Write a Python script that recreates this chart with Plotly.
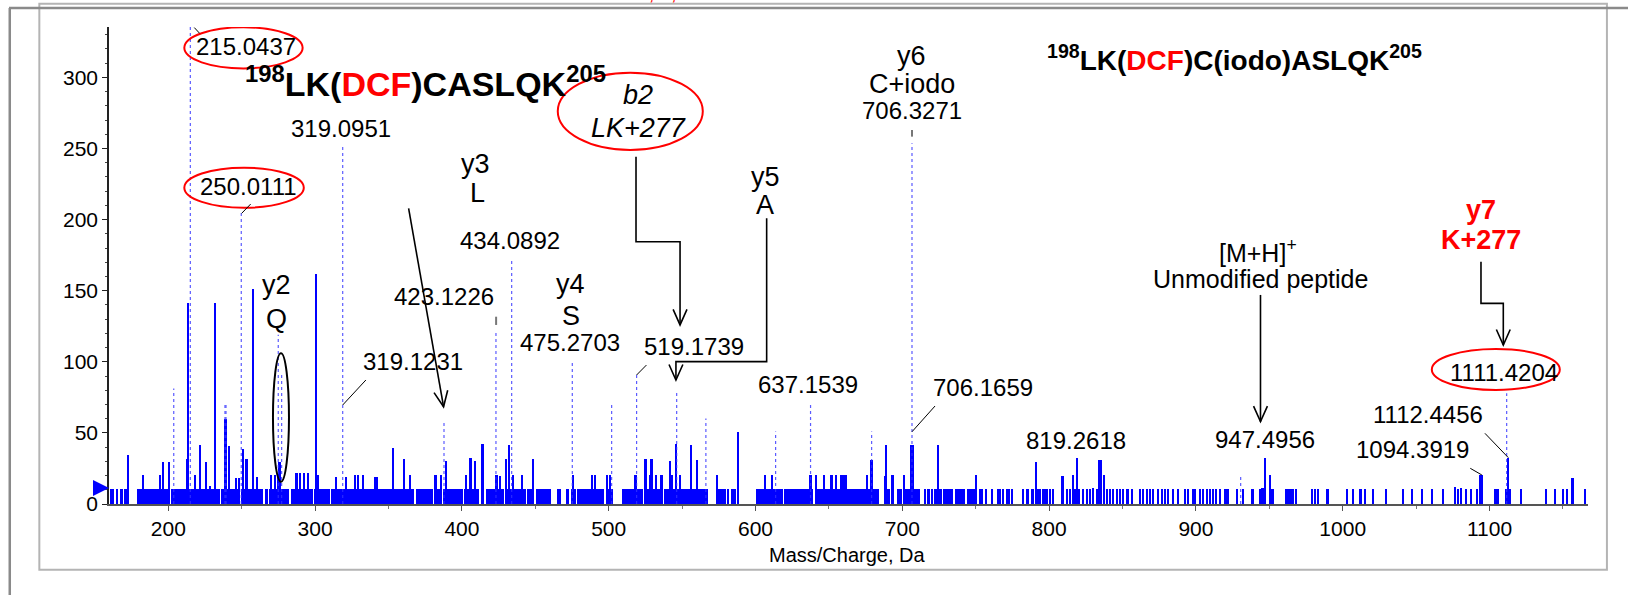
import math
import plotly.graph_objects as go

# ---------------- data ----------------
# dense baseline noise band below ~750 Da (m/z from / to, height)
FLOOR_FROM = [160.3, 164.1, 166.9, 169.9, 178.6, 201.6, 213.4, 232.2, 236.1, 249.2,
              265.6, 268.5, 283.3, 299.2, 311.0, 321.4, 353.7, 368.4, 380.9, 387.3,
              401.4, 409.4, 412.7, 416.1, 429.7, 444.5, 450.2, 464.9, 470.6, 474.0,
              478.6, 488.8, 497.9, 509.2, 524.0, 529.7, 537.6, 573.9, 580.7, 583.0,
              587.6, 600.0, 611.4, 619.3, 642.0, 646.6, 655.7, 660.2, 676.3, 687.5,
              692.1, 696.6, 700.7, 714.8, 717.1, 719.5, 721.9, 727.5, 736.1, 744.0]
FLOOR_TO = [163.3, 166.0, 169.0, 173.4, 200.8, 212.6, 231.4, 235.3, 248.4, 264.8,
            267.7, 282.5, 298.4, 310.2, 320.6, 352.9, 367.6, 380.1, 386.5, 400.6,
            408.6, 411.9, 415.3, 428.9, 443.7, 449.4, 460.7, 467.6, 473.2, 477.8,
            488.0, 497.1, 503.2, 523.2, 528.9, 536.8, 567.5, 579.9, 582.2, 586.8,
            589.0, 610.6, 618.5, 639.0, 645.8, 654.9, 659.4, 675.5, 684.4, 691.3,
            694.6, 699.9, 712.2, 716.3, 718.7, 720.9, 726.7, 734.3, 742.9, 749.6]
FLOOR_H = [10.5, 10.5, 10.5, 10.5, 10.5, 10.5, 10.5, 10.5, 10.5, 10.5,
           10.5, 10.5, 10.5, 10.5, 10.5, 10.5, 10.5, 10.5, 10.5, 10.5,
           10.5, 10.5, 10.5, 10.5, 10.5, 10.5, 10.5, 10.5, 10.5, 10.5,
           10.5, 10.5, 10.5, 10.5, 10.5, 10.5, 10.5, 10.5, 10.5, 10.5,
           10.5, 10.5, 10.5, 10.5, 10.5, 10.5, 10.5, 10.5, 10.5, 10.5,
           10.5, 10.5, 10.5, 10.5, 10.5, 10.5, 10.5, 10.5, 10.5, 10.5]

# sparse noise lines above ~750 Da
NOISE_MZ = [753.0, 754.1, 756.8, 760.9, 765.5, 766.6, 768.9, 771.1, 773.0, 774.5,
            782.5, 784.8, 785.9, 788.2, 789.3, 792.7, 793.8, 796.1, 797.2, 798.4,
            800.7, 802.9, 812.0, 814.3, 817.7, 820.6, 823.4, 825.6, 827.9, 830.2,
            832.4, 839.3, 841.5, 843.8, 846.1, 848.3, 850.6, 852.9, 854.0, 856.3,
            862.0, 864.2, 866.5, 868.8, 871.0, 874.4, 876.7, 879.0, 881.3, 884.7,
            888.1, 892.6, 894.9, 898.3, 899.4, 902.8, 905.1, 907.4, 909.6, 911.9,
            914.1, 916.4, 919.8, 921.0, 922.1, 927.8, 932.3, 938.0, 939.1, 943.7,
            944.8, 945.9, 951.6, 952.7, 961.8, 963.0, 964.1, 965.2, 966.4, 968.6,
            978.9, 981.1, 983.4, 989.1, 990.2, 1002.7, 1007.2, 1011.8, 1012.9, 1015.2,
            1020.9, 1029.9, 1041.3, 1047.0, 1053.8, 1060.6, 1068.5, 1076.5, 1078.8, 1081.0,
            1084.4, 1087.8, 1091.3, 1103.7, 1104.9, 1106.0, 1111.2, 1114.0, 1121.9, 1138.9,
            1144.6, 1150.3, 1152.6, 1165.1]
NOISE_H = [10.5, 10.5, 10.5, 10.5, 10.5, 10.5, 10.5, 10.5, 10.5, 10.5,
           10.5, 10.5, 10.5, 10.5, 10.5, 10.5, 10.5, 10.5, 10.5, 10.5,
           10.5, 10.5, 10.5, 10.5, 10.5, 10.5, 10.5, 10.5, 10.5, 11.0,
           10.5, 10.5, 10.5, 10.5, 10.5, 10.5, 10.5, 10.5, 10.5, 10.5,
           10.5, 10.5, 10.5, 10.5, 10.5, 10.5, 10.5, 10.5, 10.5, 10.5,
           10.5, 10.5, 10.5, 10.5, 10.5, 10.5, 10.5, 10.5, 10.5, 10.5,
           10.5, 10.5, 10.5, 10.5, 10.5, 10.5, 10.5, 10.5, 10.5, 10.5,
           11.0, 11.5, 10.5, 10.5, 10.5, 10.5, 10.5, 10.5, 10.5, 10.5,
           10.5, 10.5, 10.5, 10.5, 10.5, 10.5, 10.5, 10.5, 10.5, 10.5,
           10.5, 10.5, 10.5, 10.5, 10.5, 10.5, 10.5, 12.0, 10.5, 11.5,
           10.5, 10.5, 10.5, 10.5, 10.5, 10.5, 10.5, 10.5, 10.5, 10.5,
           10.5, 10.5, 10.5, 10.5]

# solid fragment peaks
PEAK_MZ = [172.8, 183.0, 194.3, 196.6, 200.5, 213.0, 213.6, 218.2, 221.6, 225.7,
           228.4, 232.0, 238.9, 239.6, 241.6, 246.1, 248.4, 251.1, 253.4, 257.9,
           260.5, 270.4, 272.6, 274.8, 275.9, 287.5, 289.8, 292.9, 295.4, 300.8,
           302.2, 314.7, 321.1, 327.2, 329.4, 332.9, 340.8, 342.0, 353.3, 360.6,
           364.6, 381.7, 382.8, 386.0, 389.6, 403.2, 406.0, 408.9, 414.1, 414.8,
           423.7, 425.9, 430.5, 432.3, 435.0, 441.1, 448.6, 475.9, 489.0, 490.6,
           499.0, 500.9, 518.4, 525.2, 528.0, 529.3, 532.2, 536.1, 541.7, 543.3,
           545.8, 548.6, 556.3, 560.4, 574.0, 588.3, 606.5, 611.7, 637.6, 641.6,
           646.6, 651.9, 655.3, 658.7, 659.8, 660.9, 661.7, 676.2, 679.2, 688.2,
           688.9, 693.5, 701.2, 706.4, 707.6, 724.6, 750.2, 791.1, 809.0, 809.7,
           816.5, 819.3, 834.3, 835.2, 837.4, 947.5, 950.5, 1094.0, 1094.7, 1095.3,
           1112.8, 1156.7]
PEAK_H = [34.5, 20.4, 20.4, 29.8, 29.8, 31.6, 141.1, 20.4, 41.5, 29.8,
          12.5, 141.6, 60.0, 60.0, 40.8, 18.5, 18.5, 38.7, 31.6, 151.0,
          19.2, 20.4, 20.4, 20.4, 29.7, 21.6, 21.6, 21.6, 21.6, 161.7,
          20.4, 19.2, 19.2, 20.4, 20.4, 20.4, 19.2, 19.2, 39.1, 31.6,
          20.4, 20.4, 20.4, 20.4, 30.5, 20.4, 32.0, 30.5, 42.2, 42.2,
          20.4, 19.7, 31.6, 41.5, 20.4, 20.4, 31.6, 20.4, 20.4, 20.4,
          20.4, 20.4, 20.4, 31.6, 20.4, 31.6, 20.4, 20.4, 30.5, 20.4,
          42.2, 20.4, 41.5, 31.0, 20.4, 50.9, 20.4, 20.4, 20.4, 20.4,
          20.4, 20.4, 20.4, 20.4, 20.4, 20.4, 20.4, 20.4, 31.0, 19.5,
          41.5, 20.4, 20.4, 41.5, 41.5, 41.5, 20.4, 29.8, 19.7, 19.7,
          20.4, 32.1, 31.0, 31.0, 20.4, 32.6, 20.4, 20.4, 20.4, 20.4,
          32.6, 18.0]

# dotted (annotated) peaks
DOT_MZ = [203.7, 215.0, 238.6, 239.3, 249.7, 274.9, 277.2, 318.8, 387.8, 423.2, 433.9,
          475.2, 502.0, 519.0, 546.3, 566.2, 613.7, 637.5, 679.1, 706.6, 930.5, 1111.7]
DOT_H = [81.3, 340.0, 69.6, 69.6, 204.6, 119.0, 90.7, 251.0, 59.0, 122.0, 172.8,
         101.2, 70.8, 90.7, 80.2, 60.2, 50.9, 70.3, 50.9, 253.6, 19.7, 77.8]

X_TICKS = [200, 300, 400, 500, 600, 700, 800, 900, 1000, 1100]
Y_TICKS = [0, 50, 100, 150, 200, 250, 300]

FONT = "Liberation Sans, Arial, sans-serif"
BLUE = "#0000ff"
SX, SY = 1.468, 1.4222  # px per Da / px per count (for arrowhead geometry)

fig = go.Figure()

fig.add_trace(go.Bar(
    x=[(a + b) / 2 for a, b in zip(FLOOR_FROM, FLOOR_TO)],
    y=FLOOR_H,
    width=[b - a for a, b in zip(FLOOR_FROM, FLOOR_TO)],
    marker=dict(color=BLUE, line=dict(width=0)),
))
fig.add_trace(go.Bar(x=NOISE_MZ, y=NOISE_H, width=0.9,
                     marker=dict(color=BLUE, line=dict(width=0))))
fig.add_trace(go.Bar(x=PEAK_MZ, y=PEAK_H, width=1.1,
                     marker=dict(color=BLUE, line=dict(width=0))))

dot_x, dot_y = [], []
for m, h in zip(DOT_MZ, DOT_H):
    dot_x += [m, m, None]
    dot_y += [0, h, None]
fig.add_trace(go.Scatter(x=dot_x, y=dot_y, mode="lines",
                         line=dict(color="rgba(50,50,255,0.8)", width=1.2, dash="dot")))

shapes = []
annotations = []


def label(x, y, text, size=24, color="black"):
    annotations.append(dict(x=x, y=y, xref="x", yref="y", text=text, showarrow=False,
                            font=dict(family=FONT, size=size, color=color),
                            xanchor="center", yanchor="middle"))


def seg(x0, y0, x1, y1, color="black", width=1):
    shapes.append(dict(type="line", xref="x", yref="y", x0=x0, y0=y0, x1=x1, y1=y1,
                       line=dict(color=color, width=width)))


def ellipse(x0, x1, y0, y1, color="red"):
    shapes.append(dict(type="circle", xref="x", yref="y", x0=x0, x1=x1, y0=y0, y1=y1,
                       line=dict(color=color, width=2)))


def arrow(points, head=17):
    path = "M " + " L ".join(f"{x},{y}" for x, y in points)
    shapes.append(dict(type="path", xref="x", yref="y", path=path,
                       line=dict(color="black", width=1.6)))
    (x0, y0), (x1, y1) = points[-2], points[-1]
    dx, dy = (x1 - x0) * SX, (y1 - y0) * SY
    n = math.hypot(dx, dy)
    ux, uy = dx / n, dy / n
    arms = []
    for a in (0.42, -0.42):
        c, s = math.cos(a), math.sin(a)
        rx, ry = ux * c - uy * s, ux * s + uy * c
        arms.append((x1 - rx * head / SX, y1 - ry * head / SY))
    hp = f"M {arms[0][0]},{arms[0][1]} L {x1},{y1} L {arms[1][0]},{arms[1][1]}"
    shapes.append(dict(type="path", xref="x", yref="y", path=hp,
                       line=dict(color="black", width=1.6)))


# peak labels
label(252.9, 321.5, "215.0437")
label(254.5, 223.1, "250.0111")
label(317.5, 264.2, "319.0951")
label(366.7, 100.5, "319.1231")
label(387.8, 145.8, "423.1226")
label(432.8, 185.6, "434.0892")
label(473.6, 113.8, "475.2703")
label(558.2, 111.1, "519.1739")
label(635.7, 83.7, "637.1539")
label(755.2, 81.9, "706.1659")
label(818.5, 45.0, "819.2618")
label(947.1, 45.7, "947.4956")
label(1047.6, 38.6, "1094.3919")
label(1057.8, 62.6, "1112.4456")
label(1110.0, 92.5, "1111.4204")

# ion labels
label(273.8, 154.0, "y2", 27)
label(273.8, 130.0, "Q", 27)
label(409.0, 239.1, "y3", 27)
label(410.5, 219.0, "L", 27)
label(474.3, 154.5, "y4", 27)
label(474.3, 132.5, "S", 27)
label(606.5, 230.1, "y5", 27)
label(606.5, 210.2, "A", 27)
label(706.5, 315.1, "y6", 27)
label(706.5, 295.3, "C+iodo", 27)
label(706.5, 277.0, "706.3271", 24)
label(520.2, 287.6, "<i>b2</i>", 27)
label(520.2, 264.7, "<i>LK+277</i>", 27)
label(942.6, 178.0, "[M+H]<sup>+</sup>", 25)
label(944.0, 158.4, "Unmodified peptide", 25)
label(1094.2, 206.4, "<b>y7</b>", 27, "#ff0000")
label(1094.2, 185.6, "<b>K+277</b>", 27, "#ff0000")

# peptide headers
label(375.5, 297.4,
      "<b><sup>198</sup>LK(<span style='color:#ff0000'>DCF</span>)CASLQK<sup>205</sup></b>", 34)
label(926.4, 313.6,
      "<b><sup>198</sup>LK(<span style='color:#ff0000'>DCF</span>)C(iodo)ASLQK<sup>205</sup></b>", 28)

# circled labels
ellipse(210.9, 291.5, 306.3, 335.2)
ellipse(210.9, 292.3, 208.3, 236.5)
ellipse(465.3, 564.1, 248.9, 303.3)
ellipse(1060.7, 1147.9, 80.2, 109.0)
ellipse(271.3, 282.2, 15.7, 106.0, "black")

# leader lines
seg(217.7, 335.0, 221.3, 331.0)
seg(250.0, 204.4, 256.1, 210.9)
seg(318.8, 69.6, 334.6, 87.2)
seg(519.0, 90.7, 525.7, 97.7)
seg(706.6, 50.8, 722.3, 68.9)
seg(1094.8, 20.4, 1086.9, 25.1)
seg(1112.8, 32.6, 1096.9, 49.7)
seg(423.3, 125.9, 423.3, 131.7, "#777777", 2)
seg(706.6, 258.3, 706.6, 263.0, "#777777", 2)

# arrows
arrow([(363.7, 207.9), (387.5, 68.4)])
arrow([(518.6, 244.2), (518.6, 184.4), (548.6, 184.4), (548.6, 125.9)])
arrow([(607.6, 200.9), (607.6, 100.1), (545.8, 100.1), (545.8, 87.2)])
arrow([(944.0, 147.0), (944.0, 57.9)])
arrow([(1094.2, 170.4), (1094.2, 141.1), (1109.4, 141.1), (1109.4, 111.8)])

# outer frames (paper coords)
shapes.append(dict(type="rect", xref="paper", yref="paper", x0=-0.0471, x1=1.0128,
                   y0=-0.1377, y1=1.0486, line=dict(color="#b4b4b4", width=2)))
shapes.append(dict(type="line", xref="paper", yref="paper", x0=-0.0676, x1=1.03,
                   y0=1.0398, y1=1.0398, line=dict(color="#8a8a8a", width=2.5)))
shapes.append(dict(type="line", xref="paper", yref="paper", x0=-0.0671, x1=-0.0671,
                   y0=1.0398, y1=-0.2, line=dict(color="#8a8a8a", width=2.5)))

# axis title and noise-threshold arrow
annotations.append(dict(x=0.4993, y=-0.107, xref="paper", yref="paper",
                        text="Mass/Charge, Da", showarrow=False,
                        font=dict(family=FONT, size=20, color="black"),
                        xanchor="center", yanchor="middle"))
annotations.append(dict(x=159.6, y=11.2, xref="x", yref="y", text="", showarrow=True,
                        ax=-13, ay=0, arrowhead=2, arrowsize=0.8, arrowwidth=4,
                        arrowcolor=BLUE))
# cropped red caption at the very top
annotations.append(dict(x=0.3742, y=1.044, xref="paper", yref="paper",
                        text="1111.4, 3, 0.422", showarrow=False,
                        font=dict(family=FONT, size=20, color="red"),
                        xanchor="center", yanchor="bottom"))

fig.update_layout(
    width=1628, height=595,
    margin=dict(l=109, r=40, t=27, b=91),
    paper_bgcolor="white", plot_bgcolor="white",
    barmode="overlay", bargap=0, showlegend=False,
    font=dict(family=FONT, size=21, color="black"),
    shapes=shapes, annotations=annotations,
)
fig.update_xaxes(range=[159.6, 1167.1], tickvals=X_TICKS, showgrid=False, zeroline=False,
                 showline=True, linecolor="#555555", linewidth=2,
                 ticks="outside", ticklen=5, tickcolor="#555555",
                 minor=dict(dtick=50, tick0=0, ticks="outside", ticklen=3, tickcolor="#777777"),
                 tickfont=dict(size=21))
fig.update_yaxes(range=[0, 335.4], tickvals=Y_TICKS, showgrid=False, zeroline=False,
                 showline=True, linecolor="#222222", linewidth=1.5,
                 ticks="outside", ticklen=5, tickcolor="#222222",
                 minor=dict(dtick=10, tick0=0, ticks="outside", ticklen=2, tickcolor="#444444"),
                 tickfont=dict(size=21))

# drop the default 8px page margin so the figure sits at the window origin
fig.write_html("out.html", config={"displayModeBar": False},
               post_script="document.body.style.margin='0';")
